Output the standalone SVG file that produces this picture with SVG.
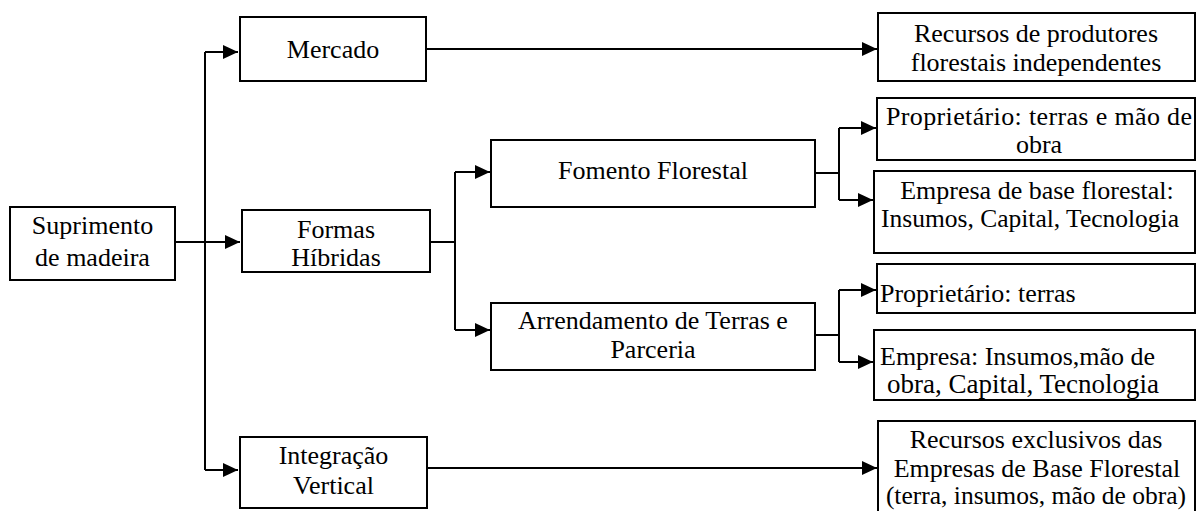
<svg xmlns="http://www.w3.org/2000/svg" width="1197" height="511" viewBox="0 0 1197 511">
<style>
.box{fill:#fff;stroke:#000;stroke-width:2}
.t{font-family:"Liberation Serif","Times New Roman",serif;font-size:26px;fill:#000;text-anchor:middle}
.s{font-size:25.5px}
.l{text-anchor:start}
.c{fill:none;stroke:#000;stroke-width:2}
</style>
<defs>
<marker id="ah" markerUnits="userSpaceOnUse" markerWidth="16" markerHeight="16" refX="15" refY="7" orient="auto">
<path d="M0,0 L15,7 L0,14 z" fill="#000"/>
</marker>
</defs>
<g id="connectors">
<path class="c" d="M175,242 H240" marker-end="url(#ah)"/>
<path class="c" d="M205,52 V470"/>
<path class="c" d="M205,52 H238" marker-end="url(#ah)"/>
<path class="c" d="M205,470 H238" marker-end="url(#ah)"/>
<path class="c" d="M426,49 H877" marker-end="url(#ah)"/>
<path class="c" d="M430,242 H455"/>
<path class="c" d="M455,172 V330"/>
<path class="c" d="M455,172 H490" marker-end="url(#ah)"/>
<path class="c" d="M455,330 H490" marker-end="url(#ah)"/>
<path class="c" d="M815,173 H839"/>
<path class="c" d="M839,128 V200"/>
<path class="c" d="M839,128 H876" marker-end="url(#ah)"/>
<path class="c" d="M839,200 H873" marker-end="url(#ah)"/>
<path class="c" d="M815,335 H839"/>
<path class="c" d="M839,290 V362"/>
<path class="c" d="M839,290 H876" marker-end="url(#ah)"/>
<path class="c" d="M839,362 H873" marker-end="url(#ah)"/>
<path class="c" d="M427,468 H877" marker-end="url(#ah)"/>
</g>
<g id="suprimento">
<rect class="box" x="10" y="207" width="165" height="73"/>
<text class="t" x="92.5" y="234">Suprimento</text>
<text class="t" x="92.5" y="266">de madeira</text>
</g>
<g id="mercado">
<rect class="box" x="240" y="17" width="186" height="64"/>
<text class="t" x="333" y="58">Mercado</text>
</g>
<g id="formas">
<rect class="box" x="242" y="210" width="188" height="62"/>
<text class="t" x="336" y="238">Formas</text>
<text class="t" x="336" y="266">Híbridas</text>
</g>
<g id="integracao">
<rect class="box" x="240" y="437" width="187" height="71"/>
<text class="t" x="333.5" y="464">Integração</text>
<text class="t" x="333.5" y="494">Vertical</text>
</g>
<g id="fomento">
<rect class="box" x="491" y="140" width="324" height="67"/>
<text class="t" x="653" y="179">Fomento Florestal</text>
</g>
<g id="arrendamento">
<rect class="box" x="491" y="303" width="324" height="67"/>
<text class="t" x="653" y="329">Arrendamento de Terras e</text>
<text class="t" x="653" y="358">Parceria</text>
</g>
<g id="recursos-produtores">
<rect class="box" x="878" y="13" width="317" height="68"/>
<text class="t" x="1036" y="42">Recursos de produtores</text>
<text class="t" x="1036" y="71">florestais independentes</text>
</g>
<g id="proprietario-fomento">
<rect class="box" x="877" y="98" width="318" height="62"/>
<text class="t" x="1039" y="125" textLength="306" lengthAdjust="spacing">Proprietário: terras e mão de</text>
<text class="t" x="1039" y="153">obra</text>
</g>
<g id="empresa-fomento">
<rect class="box" x="874" y="171" width="321" height="82"/>
<text class="t" x="1037" y="199">Empresa de base florestal:</text>
<text class="t s" x="1030" y="227">Insumos, Capital, Tecnologia</text>
</g>
<g id="proprietario-arrendamento">
<rect class="box" x="877" y="264" width="318" height="49"/>
<text class="t l" x="880" y="302">Proprietário: terras</text>
</g>
<g id="empresa-arrendamento">
<rect class="box" x="874" y="330" width="321" height="70"/>
<text class="t l" x="880" y="365">Empresa: Insumos,mão de</text>
<text class="t l" x="887" y="393" style="font-size:27px">obra, Capital, Tecnologia</text>
</g>
<g id="recursos-exclusivos">
<rect class="box" x="878" y="421" width="317" height="95"/>
<text class="t" x="1036" y="448">Recursos exclusivos das</text>
<text class="t" x="1037" y="477">Empresas de Base Florestal</text>
<text class="t s" x="1036" y="504">(terra, insumos, mão de obra)</text>
</g>
</svg>
